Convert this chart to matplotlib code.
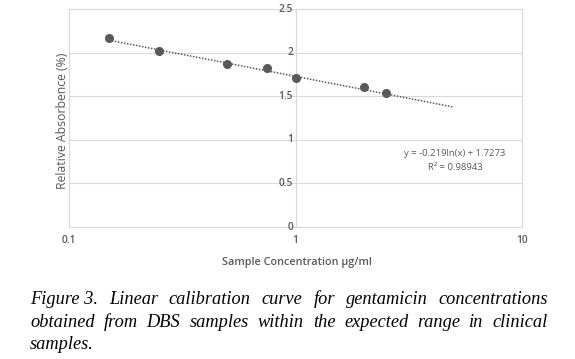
import numpy as np
import matplotlib
matplotlib.use("Agg")
import matplotlib.pyplot as plt
import matplotlib.transforms as mtransforms

# Data
conc = [0.15, 0.25, 0.5, 0.75, 1.0, 2.0, 2.5]
absorb = [2.17, 2.02, 1.87, 1.82, 1.71, 1.60, 1.54]
slope = -0.219
intercept = 1.7273
trend_x = [0.15, 5.0]
yticks = [0, 0.5, 1, 1.5, 2, 2.5]
ytick_labels = ["0", "0.5", "1", "1.5", "2", "2.5"]
xticks = [0.1, 1, 10]
xtick_labels = ["0.1", "1", "10"]
eq_text = "y = -0.219ln(x) + 1.7273"
r2_text = "R² = 0.98943"
xlabel = "Sample Concentration µg/ml"
ylabel = "Relative Absorbence (%)"
caption_lines = [
    ("Figure 3.", "Linear calibration curve for gentamicin concentrations"),
    ("", "obtained from DBS samples within the expected range in clinical"),
    ("", "samples."),
]

W, H = 575, 359
fig = plt.figure(figsize=(W / 100, H / 100), dpi=100)
ax = fig.add_axes([69 / W, 1 - 227 / H, (522 - 69) / W, (227 - 9) / H])

grey = "#d9d9d9"
txt = "#595959"
font = "Open Sans"

ax.set_xscale("log")
ax.set_xlim(0.1, 10)
ax.set_ylim(0, 2.5)
for s in ax.spines.values():
    s.set_color(grey)
    s.set_linewidth(0.8)
for y in yticks:
    ax.axhline(y, color=grey, lw=0.8, zorder=0)
ax.axvline(1, color=grey, lw=0.8, zorder=0)
ax.set_xticks([])
ax.set_yticks([])
ax.minorticks_off()

# y tick labels next to x=1 axis
trans = mtransforms.blended_transform_factory(ax.transData, ax.transData)
for y, lab in zip(yticks, ytick_labels):
    ax.text(0.975, y, lab, transform=trans, ha="right", va="center",
            fontsize=7.3, color=txt, family=font, fontweight="semibold")
for x, lab in zip(xticks, xtick_labels):
    ax.text(x, -0.15, lab, ha="center", va="center", fontsize=7.3,
            color=txt, family=font, fontweight="semibold", clip_on=False)

tx = np.logspace(np.log10(trend_x[0]), np.log10(trend_x[1]), 100)
ax.plot(tx, slope * np.log(tx) + intercept, ls=(0, (1, 1)), color=txt, lw=1.1)
ax.plot(conc, absorb, "o", color=txt, ms=5.5, zorder=3)

ax.text(455 / W, 1 - 153 / H, eq_text, transform=fig.transFigure, ha="center",
        va="center", fontsize=6.8, color=txt, family=font)
ax.text(455 / W, 1 - 168 / H, r2_text, transform=fig.transFigure, ha="center",
        va="center", fontsize=6.8, color=txt, family=font)

fig.text(297 / W, 1 - 262 / H, xlabel, ha="center", va="center", fontsize=7.8,
         color=txt, family=font, fontweight="semibold")
fig.text(62 / W, 1 - 121 / H, ylabel, ha="center", va="center", fontsize=8.8,
         color=txt, family=font, rotation=90)

# Justified caption
renderer = fig.canvas.get_renderer()
left, right = 30, 548
line_base = [304, 327, 349]
cap_fs = 13.2
cap_family = "Liberation Serif"
for i, ((first, rest), yy) in enumerate(zip(caption_lines, line_base)):
    words = []
    if first:
        words.append(first)
    words += rest.split()
    objs = []
    for w in words:
        t = fig.text(0, 1 - yy / H, w, fontsize=cap_fs, family=cap_family,
                     style="italic", va="baseline", ha="left", color="black")
        objs.append(t)
    widths = [o.get_window_extent(renderer).width for o in objs]
    if i < len(caption_lines) - 1:
        gap = (right - left - sum(widths)) / (len(objs) - 1)
    else:
        gap = cap_fs * 0.3
    x = left
    for o, w in zip(objs, widths):
        o.set_x(x / W)
        x += w + gap

fig.savefig("out.png", dpi=100)
